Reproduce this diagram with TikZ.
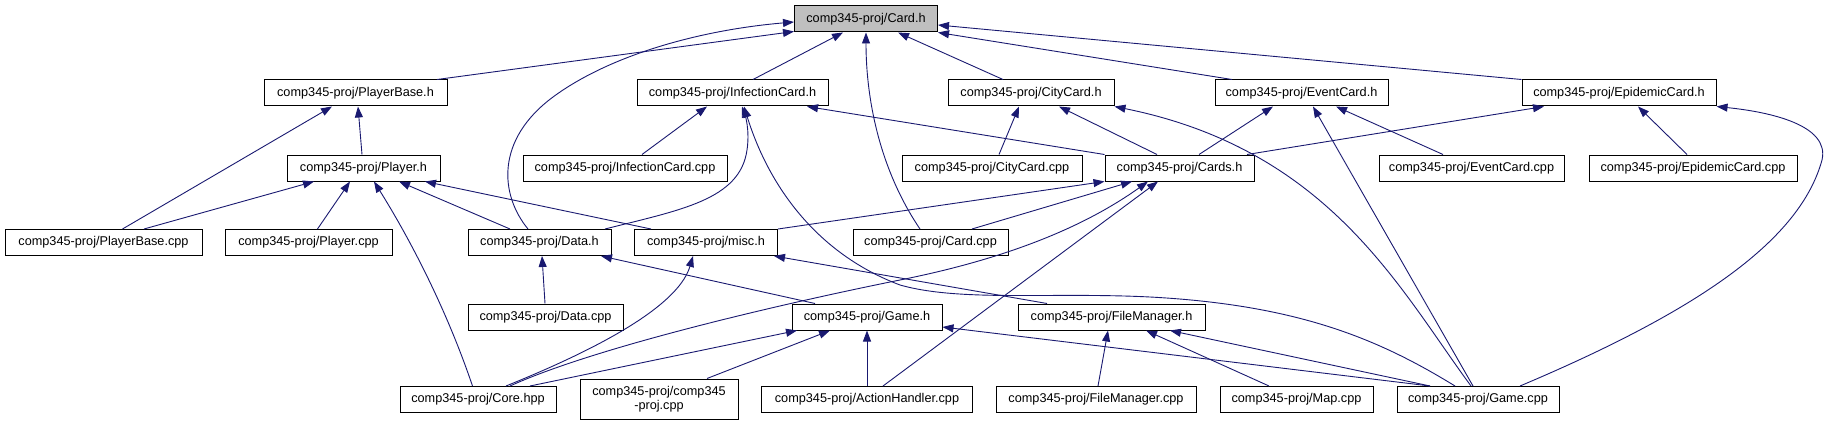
\documentclass[tikz,border=0pt]{standalone}
\usepackage{fontspec}
\setmainfont{Liberation Sans}
\usepackage{tikz}
\usetikzlibrary{arrows.meta}
\definecolor{edgeblue}{RGB}{25,25,112}
\definecolor{rootgray}{RGB}{191,191,191}
\tikzset{
    % file boxes
    fbox/.style={rectangle, draw=black, fill=white, line width=1pt,
                minimum height=26pt, inner sep=0pt, align=center,
                font=\fontsize{12.7}{14}\selectfont},
    rootbox/.style={fbox, fill=rootgray},
    % include edges
    incl/.style={-{Triangle[length=11pt, width=8pt]}, draw=edgeblue, line width=0.9pt},
}

\begin{document}
\begin{tikzpicture}[x=1pt, y=-1pt]
\useasboundingbox (0,0) rectangle (1828,425);

\node[rootbox, minimum width=143pt] (card) at (866,19) {comp345-proj/Card.h};

\node[fbox, minimum width=183pt] (pbh)  at (355.5,93) {comp345-proj/PlayerBase.h};
\node[fbox, minimum width=191pt] (ich)  at (732.5,93) {comp345-proj/InfectionCard.h};
\node[fbox, minimum width=166pt] (cch)  at (1031,93)  {comp345-proj/CityCard.h};
\node[fbox, minimum width=173pt] (ech)  at (1301.5,93) {comp345-proj/EventCard.h};
\node[fbox, minimum width=194pt] (epch) at (1619,93)  {comp345-proj/EpidemicCard.h};

\node[fbox, minimum width=153pt] (plh)   at (363.5,168) {comp345-proj/Player.h};
\node[fbox, minimum width=204pt] (iccpp) at (625,168)   {comp345-proj/InfectionCard.cpp};
\node[fbox, minimum width=180pt] (cccpp) at (992,168)   {comp345-proj/CityCard.cpp};
\node[fbox, minimum width=149pt] (cards) at (1179.5,168) {comp345-proj/Cards.h};
\node[fbox, minimum width=185pt] (eccpp) at (1471.5,168) {comp345-proj/EventCard.cpp};
\node[fbox, minimum width=208pt] (epcpp) at (1693,168)  {comp345-proj/EpidemicCard.cpp};

\node[fbox, minimum width=197pt] (pbcpp)   at (103.5,242.5) {comp345-proj/PlayerBase.cpp};
\node[fbox, minimum width=167pt] (plcpp)   at (308.5,242.5) {comp345-proj/Player.cpp};
\node[fbox, minimum width=143pt] (datah)   at (539.5,242.5) {comp345-proj/Data.h};
\node[fbox, minimum width=143pt] (misch)   at (706,242.5)   {comp345-proj/misc.h};
\node[fbox, minimum width=155pt] (cardcpp) at (930.5,242.5) {comp345-proj/Card.cpp};

\node[fbox, minimum width=155pt] (datacpp) at (545.5,317) {comp345-proj/Data.cpp};
\node[fbox, minimum width=150pt] (gameh)   at (867,317)   {comp345-proj/Game.h};
\node[fbox, minimum width=187pt] (fmh)     at (1111.5,317) {comp345-proj/FileManager.h};

\node[fbox, minimum width=156pt] (corehpp) at (478,399.5)  {comp345-proj/Core.hpp};
\node[fbox, minimum width=158pt, minimum height=40pt] (maincpp) at (659,399) {comp345-proj/comp345\\-proj.cpp};
\node[fbox, minimum width=211pt] (ahcpp)   at (867,399.5)  {comp345-proj/ActionHandler.cpp};
\node[fbox, minimum width=200pt] (fmcpp)   at (1096,399.5) {comp345-proj/FileManager.cpp};
\node[fbox, minimum width=153pt] (mapcpp)  at (1296.5,399.5) {comp345-proj/Map.cpp};
\node[fbox, minimum width=162pt] (gamecpp) at (1478,399.5) {comp345-proj/Game.cpp};

% Card.h
\draw[incl] ([xshift=81.5pt]pbh.north) -- ([yshift=1pt]card.south west);
\draw[incl] ([xshift=-11.5pt]datah.north) .. controls (500,195) and (495,140) .. (553,97)
            .. controls (610,55) and (700,30) .. ([yshift=-3pt]card.west);
\draw[incl] ([xshift=20.5pt]ich.north) -- ([xshift=-23pt]card.south);
\draw[incl] ([xshift=-10.5pt]cardcpp.north) .. controls (880,170) and (866,100) .. (card.south);
\draw[incl] ([xshift=-28pt]cch.north) -- ([xshift=32pt]card.south);
\draw[incl] ([xshift=-69.5pt]ech.north) -- (card.south east);
\draw[incl] (epch.north west) -- ([yshift=-6pt]card.east);

% PlayerBase.h, Player.h
\draw[incl] ([xshift=19pt]pbcpp.north) -- ([xshift=-23.5pt]pbh.south);
\draw[incl] ([xshift=-1.5pt]plh.north) -- ([xshift=2.5pt]pbh.south);
\draw[incl] ([xshift=40.5pt]pbcpp.north) -- ([xshift=-49.5pt]plh.south);
\draw[incl] ([xshift=9pt]plcpp.north) -- ([xshift=-13.5pt]plh.south);
\draw[incl] ([xshift=-5.5pt]corehpp.north) .. controls (440,290) and (395,215) .. ([xshift=10.5pt]plh.south);
\draw[incl] ([xshift=-29.5pt]datah.north) -- ([xshift=35.5pt]plh.south);
\draw[incl] ([xshift=-55pt]misch.north) -- ([xshift=61.5pt]plh.south);

% InfectionCard.h
\draw[incl] ([xshift=17pt]iccpp.north) -- ([xshift=-25.5pt]ich.south);
\draw[incl] ([xshift=65.5pt]datah.north) .. controls (680,210) and (740,200) .. (747,150)
            .. controls (750,130) and (745,115) .. ([xshift=9.5pt]ich.south);
\draw[incl] (cards.north west) -- ([xshift=74.5pt]ich.south);
\draw[incl] ([xshift=-23pt]gamecpp.north) .. controls (1380,340) and (1300,305) .. (1150,297)
            .. controls (1050,292) and (960,302) .. (900,285)
            .. controls (820,255) and (770,190) .. ([xshift=11.5pt]ich.south);

% CityCard.h
\draw[incl] ([xshift=7pt]cccpp.north) -- ([xshift=-12pt]cch.south);
\draw[incl] ([xshift=-22.5pt]cards.north) -- ([xshift=28pt]cch.south);
\draw[incl] ([xshift=-7pt]gamecpp.north) .. controls (1400,290) and (1330,150) .. (cch.south east);

% EventCard.h
\draw[incl] ([xshift=19.5pt]cards.north) -- ([xshift=-28.5pt]ech.south);
\draw[incl] ([xshift=-28.5pt]eccpp.north) -- ([xshift=34.5pt]ech.south);
\draw[incl] ([xshift=-5pt]gamecpp.north) -- ([xshift=11.5pt]ech.south);

% EpidemicCard.h
\draw[incl] ([xshift=67.5pt]cards.north) -- ([xshift=-75pt]epch.south);
\draw[incl] ([xshift=-6pt]epcpp.north) -- ([xshift=19pt]epch.south);
\draw[incl] ([xshift=42pt]gamecpp.north) .. controls (1700,310) and (1800,240) .. (1822,160)
            .. controls (1830,125) and (1770,112) .. (epch.south east);

% Cards.h
\draw[incl] (misch.north east) -- (cards.south west);
\draw[incl] ([xshift=41.5pt]cardcpp.north) -- ([xshift=-47.5pt]cards.south);
\draw[incl] ([xshift=32pt]corehpp.north) .. controls (600,345) and (800,300) .. (900,280)
            .. controls (1000,260) and (1080,230) .. ([xshift=-31.5pt]cards.south);
\draw[incl] ([xshift=16pt]ahcpp.north) -- ([xshift=-21.5pt]cards.south);

% Data.h, misc.h
\draw[incl] ([xshift=-0.5pt]datacpp.north) -- ([xshift=2.5pt]datah.south);
\draw[incl] ([xshift=-52pt]gameh.north) -- ([xshift=61.5pt]datah.south);
\draw[incl] ([xshift=28pt]corehpp.north) .. controls (620,340) and (680,300) .. ([xshift=-13pt]misch.south);
\draw[incl] ([xshift=-64.5pt]fmh.north) -- ([xshift=68pt]misch.south);

% Game.h, FileManager.h
\draw[incl] ([xshift=52pt]corehpp.north) -- ([xshift=-70pt]gameh.south);
\draw[incl] ([xshift=48pt]maincpp.north) -- ([xshift=-37pt]gameh.south);
\draw[incl] (ahcpp.north) -- (gameh.south);
\draw[incl] ([xshift=-48pt]gamecpp.north) -- ([yshift=-10pt]gameh.east);
\draw[incl] ([xshift=2pt]fmcpp.north) -- ([xshift=-3.5pt]fmh.south);
\draw[incl] ([xshift=-27.5pt]mapcpp.north) -- ([xshift=34.5pt]fmh.south);
\draw[incl] ([xshift=-48pt]gamecpp.north) -- ([xshift=58.5pt]fmh.south);
\end{tikzpicture}
\end{document}
